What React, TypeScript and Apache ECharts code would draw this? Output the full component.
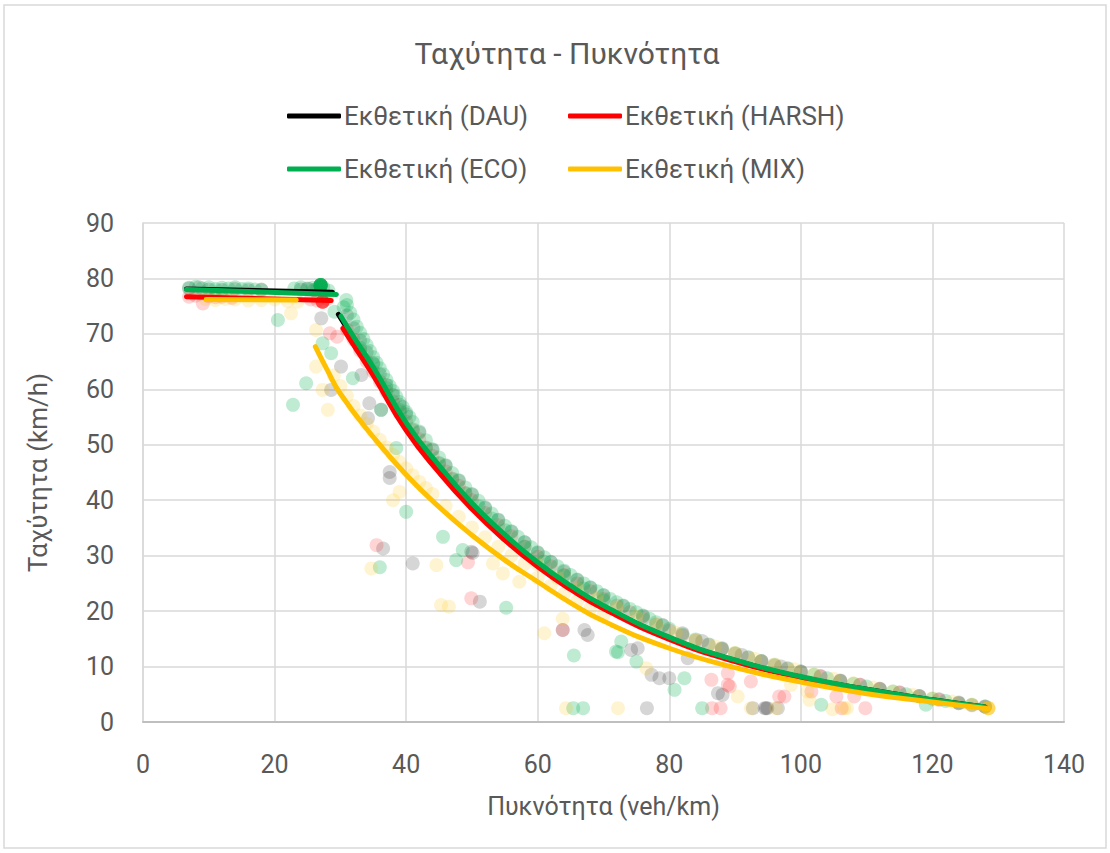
import React, { useEffect, useRef } from "react";
import * as echarts from "echarts";

const FONT = "Roboto, 'Liberation Sans', sans-serif";
const TEXT = "#595959";

const titleText = "Ταχύτητα - Πυκνότητα";
const xName = "Πυκνότητα (veh/km)";
const yName = "Ταχύτητα (km/h)";
const lineNames = ["Εκθετική (DAU)", "Εκθετική (HARSH)", "Εκθετική (ECO)", "Εκθετική (MIX)"];

// Fitted exponential lines (free-flow part and congested part)
const dauFree = [[6.6, 78.1], [28.8, 77.5]];
const harshFree = [[6.6, 76.7], [28.6, 76.0]];
const ecoFree = [[6.6, 78.0], [29.4, 77.1]];
const mixFree = [[9.6, 76.2], [23.3, 76.1]];

const dauCong = [[29.7, 73.5], [32, 69.2], [35, 63.6], [40, 53.6], [45, 45.9], [50, 39.1], [55, 33.4], [60, 28.5], [65, 24.3], [70, 20.8], [80, 15.2], [90, 11.1], [100, 8.1], [110, 5.9], [120, 4.0], [128, 2.7]];
const harshCong = [[30.4, 71.0], [32, 68], [35, 62.5], [40, 52.6], [45, 45], [50, 38.4], [55, 32.8], [60, 28], [65, 23.9], [70, 20.4], [80, 14.9], [90, 10.9], [100, 8.0], [110, 5.8], [120, 3.9], [128, 2.6]];
const ecoCong = [[30.1, 73.2], [32, 69.5], [35, 64], [40, 54], [45, 46.3], [50, 39.5], [55, 33.8], [60, 28.8], [65, 24.6], [70, 21], [80, 15.3], [90, 11.2], [100, 8.2], [110, 5.9], [120, 4.0], [128, 2.7]];
const mixCong = [[26.2, 67.7], [28, 63.5], [30, 59.2], [35, 51.4], [40, 44.6], [45, 38.8], [50, 33.7], [55, 29.2], [60, 25.3], [65, 21.5], [70, 18.2], [80, 13.3], [90, 9.8], [100, 7.2], [110, 5.1], [120, 3.6], [128.5, 2.4]];

// Measured points
const dauPoints = [
  [7, 78.2], [8.5, 78.4], [10, 78.0], [12, 77.9], [14, 78.1], [16, 77.9], [18, 78.0], [24, 78.0], [25, 78.2], [26, 77.9], [27, 78.6], [27, 78.6], [27, 78.6],
  [27.1, 72.8], [28.6, 59.9], [30.1, 64.1], [33.2, 62.6], [34.4, 57.5], [34.2, 54.8], [36.2, 56.3], [37.5, 45.1], [37.5, 44.0], [36.5, 31.3], [41.0, 28.6],
  [50.1, 30.5], [49.9, 30.7], [51.2, 21.7], [63.8, 16.6], [67.1, 16.6], [67.6, 15.7], [74.2, 13.0], [75.2, 13.3], [77.3, 8.5], [78.5, 7.9], [80, 7.9],
  [82.8, 11.5], [76.6, 2.5], [87.4, 5.2], [88.1, 4.9], [92.7, 2.5], [94.5, 2.5], [94.7, 2.5], [94.9, 2.5], [96.5, 2.5],
  [31, 73.3], [32, 71], [33, 68.8], [34, 66.7], [35, 64.7], [36, 62.7], [37, 60.8], [38, 59], [39, 57.2], [40, 55.5], [42, 52.2], [44, 49.1], [46, 46.2],
  [48, 43.5], [50, 41], [52, 38.6], [54, 36.4], [56, 34.3], [58, 32.4], [60, 30.5], [62, 28.8], [64, 27.1], [66, 25.6], [68, 24.2], [70, 22.8], [73, 20.9],
  [76, 19.1], [79, 17.5], [82, 16], [85, 14.6], [88, 13.3], [91, 12.1], [94, 11.0], [97, 10.0], [100, 9.1], [103, 8.3], [106, 7.5], [109, 6.7], [112, 6.0],
  [115, 5.3], [118, 4.7], [121, 4.1], [124, 3.5], [128, 2.8]
];
const harshPoints = [
  [7, 76.7], [8, 76.9], [9.1, 75.5], [10, 76.8], [11, 76.6], [12, 76.7], [13.5, 76.5], [25.5, 76.2], [26.5, 76.0], [27.3, 75.8], [27.3, 75.8], [27.3, 75.8],
  [27.3, 75.8], [27.3, 75.8], [27.3, 75.8], [28, 76.3], [28.4, 70.1], [29.5, 69.5],
  [35.5, 31.9], [49.4, 28.8], [49.9, 22.3], [63.8, 16.6], [86.4, 7.6], [86.5, 2.5], [87.8, 2.5], [88.9, 6.7], [89.2, 6.4], [88.9, 8.8], [92.4, 7.3],
  [96.7, 4.6], [97.5, 4.6], [101.6, 5.5], [105.4, 4.6], [108.1, 4.6], [109.8, 2.5], [106.2, 2.5],
  [31, 70.8], [32, 69.0], [33, 67.0], [34, 65.0], [35, 63.2], [36, 61.4], [37, 59.6], [38, 57.8], [39, 56.0], [40, 54.2], [41, 52.6], [42, 51.0], [43, 49.5],
  [44, 48.0], [45, 46.6], [46, 45.2], [47, 43.9], [48, 42.6], [49, 41.3], [50, 40.0], [52, 37.7], [54, 35.5], [56, 33.5], [58, 31.6], [60, 29.8], [62, 28.1],
  [64, 26.5], [66, 25.0], [68, 23.6], [70, 22.2], [72, 21.0], [74, 19.8], [76, 18.7], [78, 17.6], [80, 16.5], [82, 15.6], [84, 14.7], [86, 13.9], [88, 13.1],
  [90, 12.3], [92, 11.6], [94, 10.9], [96, 10.2], [98, 9.6], [100, 9.0], [103, 8.2], [106, 7.4], [109, 6.7], [112, 6.0], [115, 5.3], [118, 4.7], [121, 4.0],
  [124, 3.4], [126, 3.0], [128, 2.7]
];
const ecoPoints = [
  [7, 78.3], [8, 78.5], [9, 78.2], [10, 78.4], [11, 78.1], [12, 78.3], [13, 78.2], [14, 78.4], [15, 78.1], [16, 78.2], [17, 78.0], [18, 77.9], [20.5, 72.5],
  [23, 78.2], [24, 78.4], [25, 78.1], [25.8, 78.3], [26.5, 78.2], [27, 78.8], [27, 78.8], [27, 78.8], [27, 78.8], [27, 78.8], [27, 78.8], [27, 78.8],
  [27, 78.8], [27.4, 78.4], [28.2, 77.8], [29.1, 74.0], [30.9, 76.1], [30.5, 74.8], [27.3, 68.3], [28.6, 66.5], [24.8, 61.1], [31.9, 62.0], [22.8, 57.2],
  [36.2, 56.3], [38.5, 49.4], [40.0, 37.9], [36.0, 27.9], [45.6, 33.4], [47.6, 29.2], [48.6, 31.0], [55.2, 20.6], [65.5, 12.0], [72.2, 12.6], [71.9, 12.7],
  [72.7, 14.5], [75.0, 10.9], [80.8, 5.8], [82.3, 7.9], [65.4, 2.5], [66.9, 2.5], [85.0, 2.5], [103.1, 3.1], [119.0, 3.1],
  [31, 75.2], [31.5, 73.8], [32, 72.6], [32.5, 71.3], [33, 70.2], [33.5, 69.1], [34, 68], [34.5, 66.9], [35, 65.8], [35.5, 64.8], [36, 63.8], [36.5, 62.7],
  [37, 61.7], [37.5, 60.6], [38, 59.7], [38.5, 58.7], [39, 57.7], [39.5, 56.8], [40, 55.9], [40.5, 55], [41, 54.1], [42, 52.4], [43, 50.8], [44, 49.2],
  [45, 47.7], [46, 46.3], [47, 44.9], [48, 43.6], [49, 42.3], [50, 41.1], [51, 39.9], [52, 38.7], [53, 37.6], [54, 36.5], [55, 35.4], [56, 34.4], [57, 33.4],
  [58, 32.4], [59, 31.5], [60, 30.6], [61, 29.7], [62, 28.9], [63, 28.1], [64, 27.3], [65, 26.5], [66, 25.7], [67, 25.0], [68, 24.3], [69, 23.6], [70, 22.9],
  [71, 22.2], [72, 21.6], [73, 21.0], [74, 20.4], [75, 19.8], [76, 19.2], [77, 18.6], [78, 18.0], [79, 17.4], [80, 16.8], [82, 15.8], [84, 14.9], [86, 14.0],
  [88, 13.2], [90, 12.4], [92, 11.7], [94, 11.0], [96, 10.3], [98, 9.7], [100, 9.1], [102, 8.5], [104, 7.9], [106, 7.4], [108, 6.9], [110, 6.4], [112, 5.9],
  [114, 5.5], [116, 5.0], [118, 4.6], [120, 4.2], [122, 3.8], [124, 3.4], [126, 3.1], [128, 2.8],
  [33, 67.5], [35, 64.5], [37, 60.2], [39, 56.3], [41, 52.8], [43, 49.4], [45, 46.7], [47, 43.8], [49, 41.2], [51, 38.9], [53, 36.7], [55, 34.6], [58, 31.6],
  [61, 28.9], [64, 26.4], [67, 24.1], [70, 21.9]
];
const mixPoints = [
  [9.5, 76.3], [11, 76.1], [12.5, 76.3], [14, 76.2], [16, 76.0], [18, 76.1], [20, 76.2], [22, 75.9], [23.5, 75.8], [22.5, 73.7], [26.3, 70.7], [26.3, 64.1],
  [27.3, 59.9], [28.1, 56.3],
  [34.7, 27.7], [44.6, 28.3], [45.3, 21.1], [46.5, 20.8], [61.0, 16.0], [63.8, 18.6], [64.3, 2.5], [72.2, 2.5], [76.5, 9.7], [90.4, 4.6], [92.4, 2.5],
  [96.2, 2.5], [98.5, 6.7], [101.0, 5.5], [101.3, 4.0], [104.8, 2.3], [106.6, 2.5], [107.0, 2.5], [39, 41.5], [38, 40],
  [29, 62.5], [30, 60.6], [31, 58.8], [32, 57.0], [33, 55.3], [34, 53.8], [35, 52.4], [36, 50.9], [37, 49.5], [38, 48.2], [39, 46.9], [40, 45.7], [41, 44.5],
  [42, 43.3], [43, 42.2], [44, 41.1], [46, 39.0], [48, 37.0], [50, 35.1], [52, 33.3], [53.2, 28.6], [54.7, 26.8], [57.2, 25.3], [54, 31.6], [56, 30.0], [58, 28.5],
  [60, 26], [62, 24.6], [64, 23.1], [66, 21.8], [68, 20.5], [70, 19.3],
  [60, 28.4], [63, 26.0], [66, 24.0], [69, 22.2], [72, 20.6], [75, 19.0], [78, 17.5], [81, 16.1], [84, 14.8], [87, 13.6], [90, 12.5], [93, 11.4], [96, 10.4],
  [99, 9.5], [102, 8.6], [105, 7.8], [108, 7.0], [111, 6.2], [114, 5.5], [117, 4.9], [120, 4.3], [123, 3.7], [126, 3.1],
  [128.5, 2.5], [128.5, 2.5], [128.5, 2.5], [128.5, 2.5], [128.5, 2.5]
];

const COLORS = { dau: "#000000", harsh: "#FF0000", eco: "#00B050", mix: "#FFC000" };

function scatter(name: string, data: number[][], color: string, opacity: number) {
  return {
    name,
    type: "scatter",
    data,
    symbolSize: 14,
    itemStyle: { color, opacity },
    emphasis: { disabled: true },
    z: 2,
  };
}

function line(name: string, data: number[][], color: string, z: number) {
  return {
    name,
    type: "line",
    data,
    smooth: true,
    symbol: "none",
    lineStyle: { color, width: 5, cap: "round", join: "round" },
    itemStyle: { color },
    emphasis: { disabled: true },
    z,
  };
}

function legend(name: string, left: number, top: number) {
  return {
    data: [name],
    left,
    top,
    icon: "roundRect",
    itemWidth: 54,
    itemHeight: 5,
    padding: 0,
    selectedMode: false,
    textStyle: { fontSize: 26, color: TEXT, fontFamily: FONT, padding: [0, 0, 0, -2] },
  };
}

export default function App() {
  const ref = useRef<HTMLDivElement>(null);
  useEffect(() => {
    const chart = echarts.init(ref.current!, null, { renderer: "svg" });
    chart.setOption({
      animation: false,
      backgroundColor: "#ffffff",
      textStyle: { fontFamily: FONT },
      title: {
        text: titleText,
        left: 562,
        top: 33,
        textAlign: "center",
        textStyle: { fontSize: 30, fontWeight: "normal", color: TEXT, fontFamily: FONT },
      },
      legend: [
        legend(lineNames[0], 287, 103),
        legend(lineNames[1], 568, 103),
        legend(lineNames[2], 287, 156),
        legend(lineNames[3], 568, 156),
      ],
      graphic: [
        {
          type: "rect",
          shape: { x: 4, y: 5, width: 1102, height: 843 },
          style: { fill: "none", stroke: "#d9d9d9", lineWidth: 1.5 },
          silent: true,
        },
      ],
      grid: { left: 143, right: 46, top: 223, bottom: 131 },
      xAxis: {
        type: "value",
        min: 0,
        max: 140,
        interval: 20,
        name: xName,
        nameLocation: "middle",
        nameGap: 72,
        nameTextStyle: { fontSize: 25, color: TEXT, fontFamily: FONT },
        axisLine: { show: true, lineStyle: { color: "#bfbfbf", width: 2 } },
        axisTick: { show: false },
        axisLabel: { fontSize: 25, color: TEXT, margin: 30, fontFamily: FONT },
        splitLine: { show: true, lineStyle: { color: "#d9d9d9", width: 1.5 } },
      },
      yAxis: {
        type: "value",
        min: 0,
        max: 90,
        interval: 10,
        name: yName,
        nameLocation: "middle",
        nameGap: 92,
        nameTextStyle: { fontSize: 26, color: TEXT, fontFamily: FONT },
        axisLine: { show: true, lineStyle: { color: "#d9d9d9", width: 1.5 } },
        axisTick: { show: false },
        axisLabel: { fontSize: 25, color: TEXT, margin: 29, fontFamily: FONT },
        splitLine: { show: true, lineStyle: { color: "#d9d9d9", width: 1.5 } },
      },
      series: [
        scatter("DAU", dauPoints, COLORS.dau, 0.16),
        scatter("HARSH", harshPoints, COLORS.harsh, 0.17),
        scatter("ECO", ecoPoints, COLORS.eco, 0.25),
        scatter("MIX", mixPoints, COLORS.mix, 0.18),
        line(lineNames[0], dauFree, COLORS.dau, 10),
        line(lineNames[0], dauCong, COLORS.dau, 10),
        line(lineNames[1], harshFree, COLORS.harsh, 11),
        line(lineNames[1], harshCong, COLORS.harsh, 11),
        line(lineNames[2], ecoFree, COLORS.eco, 12),
        line(lineNames[2], ecoCong, COLORS.eco, 12),
        line(lineNames[3], mixFree, COLORS.mix, 13),
        line(lineNames[3], mixCong, COLORS.mix, 13),
      ],
    });
    return () => chart.dispose();
  }, []);
  return (
    <div
      ref={ref}
      style={{ position: "absolute", left: 0, top: 0, width: 1110, height: 853, background: "#fff" }}
    />
  );
}
